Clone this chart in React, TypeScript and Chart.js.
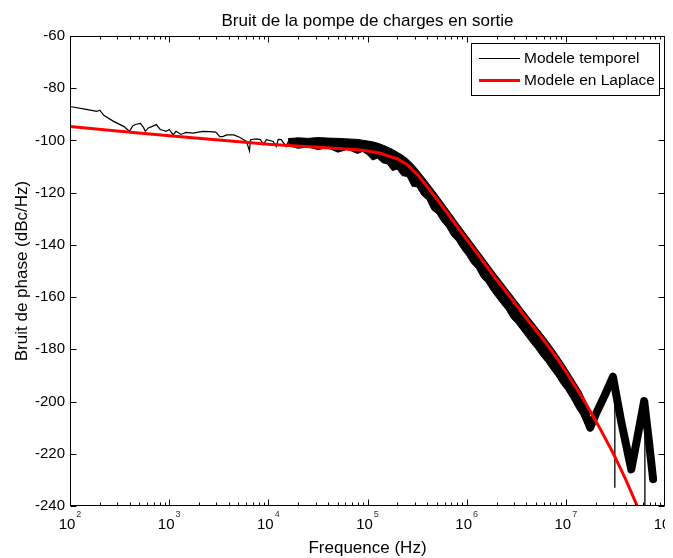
import { useEffect, useRef } from 'react';
import { Chart, registerables } from 'chart.js';

Chart.register(...registerables);

const TITLE = 'Bruit de la pompe de charges en sortie';
const X_TITLE = 'Frequence (Hz)';
const Y_TITLE = 'Bruit de phase (dBc/Hz)';
const LEGEND_LABELS = ['Modele temporel', 'Modele en Laplace'];

const X_DECADES = [1e2, 1e3, 1e4, 1e5, 1e6, 1e7, 1e8];
const X_EXPONENTS = ['2', '3', '4', '5', '6', '7', '8'];
const Y_TICKS = [-60, -80, -100, -120, -140, -160, -180, -200, -220, -240];

// Modele temporel : low-frequency thin trace
const tempFreq = [100, 141, 186, 200, 219, 275, 347, 398, 427, 457, 513, 550, 575, 617, 676, 741, 813, 933, 1000, 1096, 1175, 1318, 1479, 1738, 2188, 2570, 2951, 3236, 3467, 3802, 4467, 5129, 6026, 6457, 6607, 7586, 8318, 8913, 9550, 11220, 12020, 12590, 13490, 15140, 16220, 17780, 19050, 20420];
const tempVal = [-87.0, -88.0, -88.9, -88.4, -90.4, -92.7, -94.6, -96.5, -94.5, -93.9, -93.5, -95.0, -96.5, -95.2, -94.6, -93.9, -95.8, -96.5, -95.8, -97.8, -96.5, -97.7, -96.9, -97.2, -96.5, -96.6, -96.8, -98.5, -98.5, -97.9, -97.9, -98.8, -100.4, -104.0, -99.7, -99.4, -99.7, -101.6, -99.7, -100.4, -102.3, -99.6, -99.7, -102.3, -99.7, -100.5, -101.6, -99.7];

// Modele temporel : dense noisy band (upper / lower envelopes)
const bandFreq = [15850, 19950, 25120, 31620, 39810, 50120, 63100, 79430, 89130, 1e5, 112200, 125900, 141300, 158500, 177800, 199500, 223900, 251200, 281800, 316200, 354800, 398100, 446700, 501200, 562300, 631000, 707900, 794300, 891300, 1e6, 1.122e6, 1.259e6, 1.413e6, 1.585e6, 1.778e6, 1.995e6, 2.239e6, 2.512e6, 2.818e6, 3.162e6, 3.548e6, 3.981e6, 4.467e6, 5.012e6, 5.623e6, 6.31e6, 7.079e6, 7.943e6, 8.913e6, 1e7, 1.122e7, 1.259e7, 1.413e7, 1.585e7, 1.758e7];
const bandUpper = [-99.3, -99.0, -99.2, -98.9, -99.1, -99.2, -99.4, -99.6, -99.9, -100.2, -100.5, -101.0, -101.7, -102.5, -103.4, -104.5, -105.6, -107.0, -108.8, -110.9, -113.3, -115.7, -118.2, -120.7, -123.3, -125.9, -128.5, -131.1, -133.7, -136.3, -138.8, -141.4, -143.9, -146.5, -149.0, -151.6, -154.0, -156.5, -158.9, -161.4, -163.9, -166.4, -168.8, -171.2, -173.6, -176.0, -178.6, -181.2, -184.0, -186.9, -189.9, -193.0, -196.0, -200.0, -205.0];
const bandLower = [-102.0, -103.0, -102.5, -103.5, -102.8, -104.5, -103.4, -105.0, -104.2, -105.5, -107.5, -106.8, -108.5, -109.0, -111.5, -111.0, -113.5, -113.8, -117.5, -117.8, -121.0, -122.6, -126.5, -128.0, -131.0, -133.2, -136.5, -138.5, -141.5, -144.0, -147.0, -149.0, -152.5, -154.5, -157.5, -160.0, -162.5, -164.8, -168.0, -170.0, -172.5, -175.0, -177.5, -179.8, -182.5, -184.8, -187.5, -190.0, -193.0, -195.5, -198.5, -202.0, -205.0, -209.0, -211.5];

// Modele temporel : high-frequency oscillating part
const zigFreq = [1.585e7, 1.758e7, 1.995e7, 2.512e7, 2.985e7, 3.631e7, 4.571e7, 5.37e7, 6.166e7, 6.918e7, 7.586e7];
const zigVal = [-205.5, -210.0, -205.0, -197.0, -190.5, -208.0, -226.0, -212.0, -199.8, -216.0, -229.7];

// Modele temporel : isolated vertical spikes
const spikeFreq = [3.12e7, 3.12e7, 4.0e7, 6.27e7, 6.27e7];
const spikeVal: (number | null)[] = [-193, -233, null, -202, -241];

// Modele en Laplace
const lapFreq = [100, 316, 1000, 3162, 1e4, 31620, 79430, 1e5, 134900, 158500, 199500, 251200, 316200, 398100, 501200, 631000, 794300, 1e6, 1.259e6, 1.585e6, 1.995e6, 2.512e6, 3.162e6, 3.981e6, 5.012e6, 6.31e6, 7.943e6, 1e7, 1.259e7, 1.549e7, 2.188e7, 3.02e7, 3.981e7, 5.248e7, 5.623e7];
const lapVal = [-94.7, -96.5, -98.2, -99.8, -101.5, -102.6, -103.6, -104.0, -104.9, -105.8, -107.0, -109.3, -113.0, -117.6, -122.5, -127.6, -132.8, -137.9, -143.0, -148.1, -153.2, -158.1, -163.0, -168.0, -172.8, -177.6, -182.8, -188.5, -194.5, -200.0, -210.0, -220.0, -229.5, -240.0, -242.5];

const FONT = "'Liberation Sans', Arial, Helvetica, sans-serif";

const pts = (xs: number[], ys: (number | null)[]) => xs.map((x, i) => ({ x, y: ys[i] }));

const matlabPlugin = {
  id: 'matlabFrame',
  afterDraw(chart: any) {
    const { ctx, chartArea: a, scales } = chart;
    const xs = scales.x;
    const ys = scales.y;
    const L = Math.round(a.left) + 0.5;
    const R = Math.round(a.right) - 0.5;
    const T = Math.round(a.top) + 0.5;
    const B = Math.round(a.bottom) - 0.5;
    ctx.save();
    ctx.strokeStyle = '#000';
    ctx.lineWidth = 1;
    ctx.strokeRect(L, T, R - L, B - T);
    ctx.beginPath();
    Y_TICKS.forEach((v) => {
      const py = Math.round(ys.getPixelForValue(v)) + 0.5;
      ctx.moveTo(L, py); ctx.lineTo(L + 6, py);
      ctx.moveTo(R, py); ctx.lineTo(R - 6, py);
    });
    for (let d = 0; d < X_DECADES.length; d++) {
      const base = X_DECADES[d];
      const mults = d === X_DECADES.length - 1 ? [1] : [1, 2, 3, 4, 5, 6, 7, 8, 9];
      mults.forEach((m) => {
        const px = Math.round(xs.getPixelForValue(base * m)) + 0.5;
        const len = m === 1 ? 6 : 3;
        ctx.moveTo(px, B); ctx.lineTo(px, B - len);
        ctx.moveTo(px, T); ctx.lineTo(px, T + len);
      });
    }
    ctx.stroke();

    // x tick labels: 10 with exponent
    ctx.fillStyle = '#000';
    ctx.textBaseline = 'middle';
    X_DECADES.forEach((v, i) => {
      const px = xs.getPixelForValue(v);
      ctx.font = `15px ${FONT}`;
      const w1 = ctx.measureText('10').width;
      ctx.font = `9px ${FONT}`;
      const w2 = ctx.measureText(X_EXPONENTS[i]).width;
      const start = px - (w1 + w2 + 1) / 2;
      ctx.font = `15px ${FONT}`;
      ctx.textAlign = 'left';
      ctx.fillText('10', start, a.bottom + 19);
      ctx.font = `9px ${FONT}`;
      ctx.fillStyle = '#333';
      ctx.fillText(X_EXPONENTS[i], start + w1 + 1, a.bottom + 9);
      ctx.fillStyle = '#000';
    });

    // titles
    const cx = (a.left + a.right) / 2;
    ctx.textAlign = 'center';
    ctx.font = `17px ${FONT}`;
    ctx.fillText(TITLE, cx, 13);
    ctx.fillText(X_TITLE, cx, 540);
    ctx.save();
    ctx.translate(14, (a.top + a.bottom) / 2);
    ctx.rotate(-Math.PI / 2);
    ctx.fillText(Y_TITLE, 0, 0);
    ctx.restore();

    // legend box
    const lx = 463.5, ly = 35.5, lw = 188, lh = 52;
    ctx.fillStyle = '#fff';
    ctx.fillRect(lx, ly, lw, lh);
    ctx.strokeStyle = '#000';
    ctx.lineWidth = 1;
    ctx.strokeRect(lx, ly, lw, lh);
    ctx.beginPath();
    ctx.moveTo(471, 50.5); ctx.lineTo(512, 50.5);
    ctx.stroke();
    ctx.strokeStyle = '#ff0000';
    ctx.lineWidth = 3;
    ctx.beginPath();
    ctx.moveTo(471, 72.5); ctx.lineTo(512, 72.5);
    ctx.stroke();
    ctx.fillStyle = '#000';
    ctx.textAlign = 'left';
    ctx.font = `15.5px ${FONT}`;
    ctx.fillText(LEGEND_LABELS[0], 516, 51);
    ctx.fillText(LEGEND_LABELS[1], 516, 73);
    ctx.restore();
  },
};

export default function App() {
  const ref = useRef<HTMLCanvasElement | null>(null);
  useEffect(() => {
    if (!ref.current) return;
    const chart = new Chart(ref.current, {
      type: 'line',
      data: {
        datasets: [
          {
            label: LEGEND_LABELS[1],
            data: pts(lapFreq, lapVal),
            borderColor: '#ff0000',
            borderWidth: 3,
            pointRadius: 0,
            fill: false,
          },
          {
            label: LEGEND_LABELS[0],
            data: pts(tempFreq, tempVal),
            borderColor: '#000',
            borderWidth: 1.2,
            pointRadius: 0,
            fill: false,
          },
          {
            label: 'band-upper',
            data: pts(bandFreq, bandUpper),
            borderColor: '#000',
            borderWidth: 1,
            pointRadius: 0,
            fill: false,
          },
          {
            label: 'band-lower',
            data: pts(bandFreq, bandLower),
            borderColor: '#000',
            backgroundColor: '#000',
            borderWidth: 1,
            pointRadius: 0,
            fill: '-1',
          },
          {
            label: 'oscillation',
            data: pts(zigFreq, zigVal),
            borderColor: '#000',
            borderWidth: 8,
            borderJoinStyle: 'round',
            borderCapStyle: 'round',
            pointRadius: 0,
            fill: false,
          },
          {
            label: 'spikes',
            data: pts(spikeFreq, spikeVal),
            borderColor: '#000',
            borderWidth: 1.3,
            pointRadius: 0,
            spanGaps: false,
            fill: false,
          },
        ],
      },
      options: {
        responsive: false,
        animation: false,
        layout: { padding: { top: 28, right: 8, left: 0, bottom: 0 } },
        plugins: {
          legend: { display: false },
          title: { display: false },
          tooltip: { enabled: false },
        },
        elements: { line: { tension: 0 } },
        scales: {
          x: {
            type: 'logarithmic',
            min: 1e2,
            max: 1e8,
            grid: { display: false, drawTicks: false },
            border: { display: false },
            ticks: { display: false },
            afterFit: (s: any) => { s.height = 52; },
          },
          y: {
            type: 'linear',
            min: -240,
            max: -60,
            grid: { display: false, drawTicks: false },
            border: { display: false },
            afterBuildTicks: (s: any) => { s.ticks = Y_TICKS.map((v) => ({ value: v })); },
            ticks: {
              padding: 5,
              color: '#000',
              font: { family: FONT, size: 15 },
              callback: (v: any) => String(v),
            },
            afterFit: (s: any) => { s.width = 62; },
          },
        },
      },
      plugins: [matlabPlugin],
    });
    return () => chart.destroy();
  }, []);
  return (
    <div style={{ width: 665, height: 550 }}>
      <canvas ref={ref} width={665} height={550} style={{ display: 'block' }} />
    </div>
  );
}
